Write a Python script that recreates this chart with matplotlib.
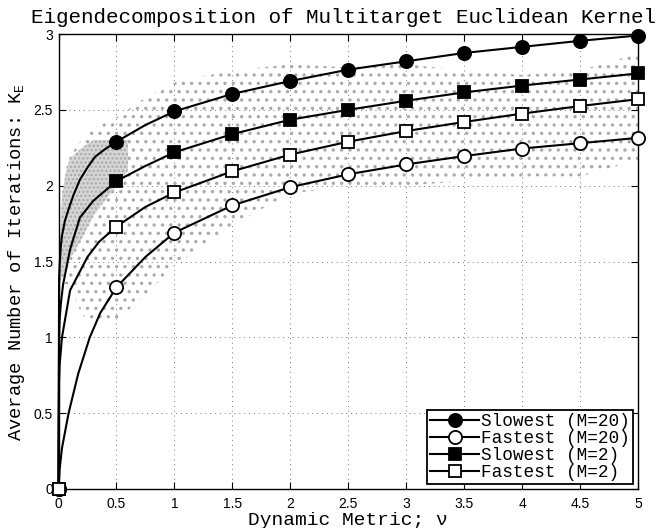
import numpy as np
import matplotlib
matplotlib.use("Agg")
import matplotlib.pyplot as plt

# curve samples (dense near v=0 where curves are steep)
v_slow20 = [0, 0.005, 0.01, 0.02, 0.03, 0.056, 0.085, 0.13, 0.185, 0.25, 0.315, 0.4, 0.5, 0.75, 1, 1.5, 2, 2.5, 3, 3.5, 4, 4.5, 5]
k_slow20 = [0, 1.38, 1.48, 1.60, 1.67, 1.77, 1.84, 1.94, 2.04, 2.12, 2.19, 2.24, 2.29, 2.40, 2.49, 2.605, 2.69, 2.765, 2.82, 2.875, 2.915, 2.955, 2.99]

v_fast20 = [0, 0.01, 0.03, 0.087, 0.17, 0.27, 0.36, 0.5, 0.75, 1, 1.5, 2, 2.5, 3, 3.5, 4, 4.5, 5]
k_fast20 = [0, 0.13, 0.27, 0.50, 0.76, 1.00, 1.16, 1.33, 1.53, 1.69, 1.87, 1.99, 2.075, 2.14, 2.195, 2.245, 2.28, 2.315]

v_slow2 = [0, 0.005, 0.01, 0.02, 0.04, 0.1, 0.185, 0.3, 0.5, 0.75, 1, 1.5, 2, 2.5, 3, 3.5, 4, 4.5, 5]
k_slow2 = [0, 1.00, 1.12, 1.22, 1.35, 1.58, 1.79, 1.90, 2.03, 2.13, 2.22, 2.34, 2.435, 2.50, 2.56, 2.615, 2.66, 2.70, 2.74]

v_fast2 = [0, 0.005, 0.01, 0.03, 0.1, 0.25, 0.35, 0.5, 0.75, 1, 1.5, 2, 2.5, 3, 3.5, 4, 4.5, 5]
k_fast2 = [0, 0.70, 0.82, 1.00, 1.31, 1.53, 1.63, 1.73, 1.86, 1.955, 2.095, 2.205, 2.29, 2.36, 2.42, 2.475, 2.525, 2.57]

# where the markers sit
v_marks = [0, 0.5, 1, 1.5, 2, 2.5, 3, 3.5, 4, 4.5, 5]

# envelope of the grey simulation cloud
cloud_v = [0.01, 0.03, 0.06, 0.1, 0.2, 0.3, 0.5, 0.75, 1.0, 1.5, 2.0, 2.5, 3.0, 3.5, 4.0, 4.5, 5.0]
cloud_hi = [1.55, 1.95, 2.10, 2.20, 2.30, 2.38, 2.45, 2.58, 2.68, 2.76, 2.80, 2.78, 2.80, 2.76, 2.73, 2.76, 2.87]
cloud_lo = [1.33, 1.35, 1.35, 1.35, 1.15, 1.10, 1.11, 1.28, 1.47, 1.74, 1.95, 1.99, 2.00, 2.03, 2.06, 2.06, 2.17]
# the dense part of the cloud on the left
dense_v = [0.01, 0.03, 0.06, 0.1, 0.2, 0.3, 0.45, 0.6]
dense_hi = [1.55, 1.92, 2.08, 2.18, 2.25, 2.30, 2.30, 2.30]
dense_lo = [1.35, 1.40, 1.45, 1.52, 1.65, 1.80, 1.95, 2.10]

series = [
    (v_slow20, k_slow20, "o", "k", "Slowest (M=20)", 9.5),
    (v_fast20, k_fast20, "o", "w", "Fastest (M=20)", 9.5),
    (v_slow2, k_slow2, "s", "k", "Slowest (M=2)", 8.5),
    (v_fast2, k_fast2, "s", "w", "Fastest (M=2)", 8.5),
]

mono = ["Liberation Mono", "DejaVu Sans Mono"]
plt.rcParams["font.family"] = ["Liberation Sans", "DejaVu Sans"]
plt.rcParams["mathtext.default"] = "regular"
plt.rcParams["hatch.linewidth"] = 1.2

fig = plt.figure(figsize=(6.57, 5.28), dpi=100)
ax = fig.add_axes([58.5 / 657, 39 / 528, 579.5 / 657, 455 / 528])

ax.fill_between(cloud_v, cloud_lo, cloud_hi, facecolor="none", edgecolor="#aaaaaa",
                hatch="..", linewidth=0, zorder=1)
ax.fill_between(dense_v, dense_lo, dense_hi, facecolor="#d6d6d6", edgecolor="#aaaaaa",
                hatch="....", linewidth=0, zorder=1)

for v, k, m, fc, lab, ms in series:
    idx = [i for i, x in enumerate(v) if x in v_marks]
    ax.plot(v, k, color="k", lw=1.5, marker=m, markevery=idx, markersize=ms,
            markerfacecolor=fc, markeredgecolor="k", markeredgewidth=1.3,
            label=lab, clip_on=False, zorder=3)

ax.set_xlim(0, 5)
ax.set_ylim(0, 3)
ax.set_xticks(np.arange(0, 5.01, 0.5))
ax.set_yticks(np.arange(0, 3.01, 0.5))
ax.set_xticklabels(["0", "0.5", "1", "1.5", "2", "2.5", "3", "3.5", "4", "4.5", "5"])
ax.set_yticklabels(["0", "0.5", "1", "1.5", "2", "2.5", "3"])
ax.tick_params(direction="in", top=True, right=True, length=5, width=0.8, labelsize=10)
ax.tick_params(axis="x", pad=6)
ax.tick_params(axis="y", pad=4)
ax.grid(True, color="#777777", linestyle=(0, (1, 4)), linewidth=0.7)
ax.set_axisbelow(True)
for s in ax.spines.values():
    s.set_linewidth(1.0)

ax.set_title("Eigendecomposition of Multitarget Euclidean Kernel", family=mono,
             fontsize=15, x=0.492, pad=8)
ax.set_xlabel("Dynamic Metric; \u03bd", family=mono, fontsize=14, va="top")
ax.xaxis.set_label_coords(0.5, -0.05)
ax.set_ylabel("Average Number of Iterations: K$_E$", family=mono, fontsize=13.5)
ax.yaxis.set_label_coords(-0.055, 0.5)

leg = ax.legend(loc="lower right", prop={"family": mono, "size": 12.8}, fancybox=False,
                edgecolor="k", framealpha=1, borderaxespad=0.3, borderpad=0.15,
                labelspacing=0.0, handlelength=2.8, handletextpad=0.1)
leg.get_frame().set_linewidth(1.3)
leg.set_zorder(5)

fig.savefig("out.png", dpi=100)
